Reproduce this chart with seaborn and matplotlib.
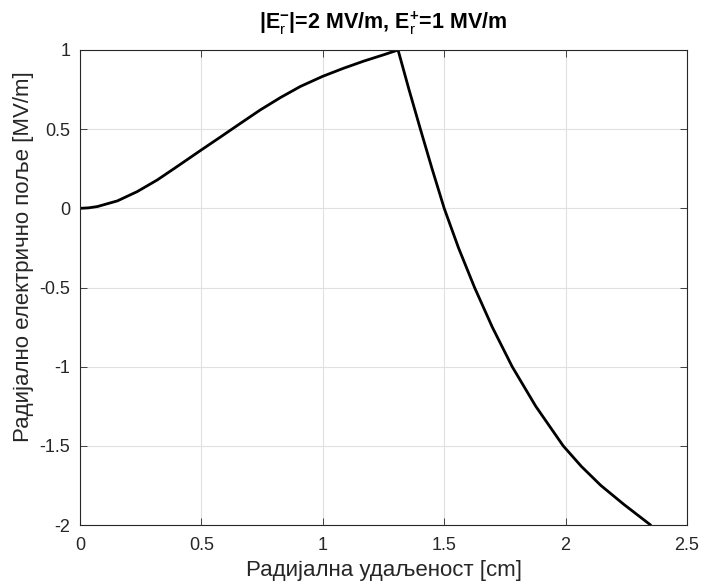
import matplotlib
matplotlib.use("Agg")
import matplotlib.pyplot as plt
import seaborn as sns
import pandas as pd

# ---- data ----
r_cm = [0.0, 0.035, 0.071, 0.154, 0.236, 0.318, 0.400, 0.497, 0.579, 0.661, 0.743,
        0.826, 0.908, 1.0, 1.086, 1.169, 1.251, 1.31,
        1.355, 1.402, 1.45, 1.50, 1.559, 1.625, 1.698, 1.78, 1.877,
        1.99, 2.065, 2.145, 2.24, 2.295, 2.35]
e_field = [0.0, 0.003, 0.011, 0.047, 0.106, 0.179, 0.264, 0.366, 0.451, 0.537, 0.622,
           0.700, 0.770, 0.834, 0.885, 0.930, 0.970, 1.0,
           0.75, 0.5, 0.25, 0.0, -0.25, -0.5, -0.75, -1.0, -1.25,
           -1.5, -1.63, -1.75, -1.87, -1.935, -2.0]
x_ticks = [0, 0.5, 1, 1.5, 2, 2.5]
x_tick_labels = ["0", "0.5", "1", "1.5", "2", "2.5"]
y_ticks = [-2, -1.5, -1, -0.5, 0, 0.5, 1]
y_tick_labels = ["-2", "-1.5", "-1", "-0.5", "0", "0.5", "1"]
title = r"|$\mathbf{E}_{\mathrm{r}}^{\mathbf{-}}$|=2 MV/m, $\mathbf{E}_{\mathrm{r}}^{\mathbf{+}}$=1 MV/m"
x_label = "Радијална удаљеност [cm]"
y_label = "Радијално електрично поље [MV/m]"

sns.set_style("whitegrid")
plt.rcParams["font.family"] = ["Liberation Sans", "DejaVu Sans"]
plt.rcParams["mathtext.fontset"] = "custom"
plt.rcParams["mathtext.rm"] = "Liberation Sans"
plt.rcParams["mathtext.bf"] = "Liberation Sans:bold"
plt.rcParams["mathtext.it"] = "Liberation Sans:italic"
plt.rcParams["axes.unicode_minus"] = False

df = pd.DataFrame({"r": r_cm, "E": e_field})

fig = plt.figure(figsize=(7.02, 5.87), dpi=100)
ax = fig.add_axes([80 / 702, 1 - 525 / 587, 607 / 702, 475 / 587])
sns.lineplot(data=df, x="r", y="E", sort=False, estimator=None,
             color="black", linewidth=2.0, ax=ax)

ax.set_xlim(0, 2.5)
ax.set_ylim(-2, 1)
ax.set_xticks(x_ticks)
ax.set_xticklabels(x_tick_labels)
ax.set_yticks(y_ticks)
ax.set_yticklabels(y_tick_labels)
ax.grid(True, color="#e0e0e0", linewidth=0.8)
for s in ax.spines.values():
    s.set_visible(True)
    s.set_color("#262626")
    s.set_linewidth(0.8)
ax.tick_params(direction="in", length=5, width=0.6, colors="#262626",
               labelsize=13, top=True, right=True, bottom=True, left=True,
               labelcolor="#262626")
ax.tick_params(axis="x", pad=9)
ax.tick_params(axis="y", pad=7)
ax.set_xlabel(x_label, fontsize=16, color="#262626", labelpad=4)
ax.set_ylabel(y_label, fontsize=16, color="#262626", labelpad=4)
ax.yaxis.set_label_coords(-0.075, 0.565)
ax.set_title(title, fontsize=15.5, fontweight="bold", color="black", pad=15)

fig.savefig("out.png", dpi=100)
